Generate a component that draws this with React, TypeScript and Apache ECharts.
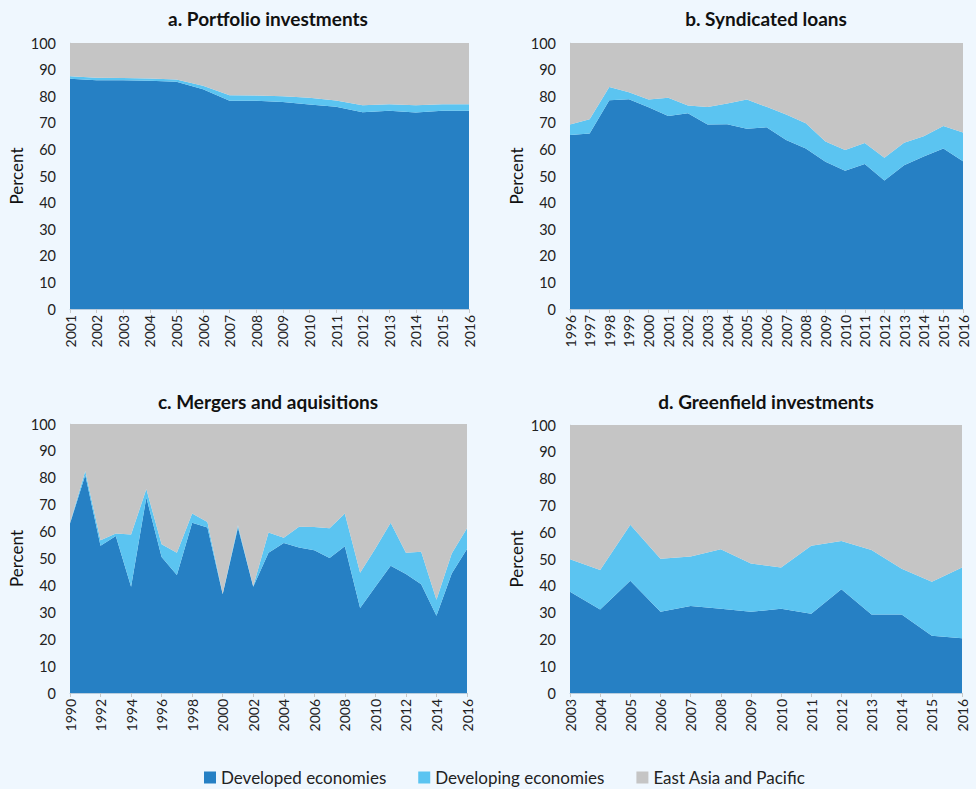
import React, { useEffect, useRef } from "react";
import * as echarts from "echarts";

const yearsA = ["2001","2002","2003","2004","2005","2006","2007","2008","2009","2010","2011","2012","2013","2014","2015","2016"];
const devA = [86.6, 86.0, 86.0, 85.8, 85.4, 82.6, 78.3, 78.3, 77.8, 76.9, 76.0, 74.0, 74.5, 73.9, 74.5, 74.5];
const dvgA = [0.9, 0.9, 0.8, 0.9, 0.9, 1.3, 2.1, 2.0, 2.2, 2.5, 2.4, 2.6, 2.5, 2.7, 2.5, 2.5];

const yearsB = ["1996","1997","1998","1999","2000","2001","2002","2003","2004","2005","2006","2007","2008","2009","2010","2011","2012","2013","2014","2015","2016"];
const devB = [65.4, 66.0, 78.5, 78.9, 75.8, 72.6, 73.6, 69.4, 69.5, 67.8, 68.3, 63.5, 60.3, 55.4, 52.0, 54.5, 48.3, 54.0, 57.3, 60.3, 55.5];
const dvgB = [4.0, 5.3, 5.0, 2.6, 3.0, 6.8, 2.9, 6.5, 7.8, 11.0, 7.7, 9.6, 9.5, 7.6, 7.8, 7.9, 8.6, 8.5, 7.6, 8.5, 10.9];

const yearsC = ["1990","1991","1992","1993","1994","1995","1996","1997","1998","1999","2000","2001","2002","2003","2004","2005","2006","2007","2008","2009","2010","2011","2012","2013","2014","2015","2016"];
const devC = [63.0, 81.0, 54.7, 58.4, 39.5, 72.7, 50.6, 43.9, 63.3, 61.5, 36.7, 61.5, 39.5, 52.1, 55.8, 54.1, 53.1, 50.2, 54.6, 31.6, 39.5, 47.3, 44.2, 40.4, 28.7, 44.4, 53.5];
const dvgC = [0.3, 1.5, 2.1, 0.9, 19.4, 3.1, 4.7, 8.2, 3.4, 2.1, 0.2, 0.9, 0.2, 7.6, 1.9, 7.7, 8.6, 11.0, 12.1, 13.1, 14.2, 16.0, 7.9, 12.1, 6.0, 7.5, 7.7];

const yearsD = ["2003","2004","2005","2006","2007","2008","2009","2010","2011","2012","2013","2014","2015","2016"];
const devD = [37.8, 31.2, 41.9, 30.3, 32.5, 31.4, 30.3, 31.4, 29.6, 38.7, 29.3, 29.3, 21.4, 20.4];
const dvgD = [12.1, 14.7, 20.9, 19.8, 18.4, 22.2, 18.0, 15.4, 25.3, 18.0, 24.1, 17.1, 20.1, 26.4];

const panelTitles = ["a. Portfolio investments", "b. Syndicated loans", "c. Mergers and aquisitions", "d. Greenfield investments"];
const seriesNames = ["Developed economies", "Developing economies", "East Asia and Pacific"];
const yTicks = [0, 10, 20, 30, 40, 50, 60, 70, 80, 90, 100];

const COLORS = ["#2680C4", "#5BC4F1", "#C5C5C5"];
const FONT = "Lato, 'Noto Sans', sans-serif";

export default function App() {
  const ref = useRef<HTMLDivElement>(null);
  useEffect(() => {
    if (!ref.current) return;
    const chart = echarts.init(ref.current, null, { renderer: "svg" });
    const panels = [
      { years: yearsA, dev: devA, dvg: dvgA, grid: { left: 70, top: 43, width: 399, height: 266 }, labelInterval: 0, cx: 268, ty: 9 },
      { years: yearsB, dev: devB, dvg: dvgB, grid: { left: 570, top: 43, width: 393, height: 266 }, labelInterval: 0, cx: 766, ty: 9 },
      { years: yearsC, dev: devC, dvg: dvgC, grid: { left: 70, top: 424, width: 397, height: 269 }, labelInterval: 1, cx: 268, ty: 392 },
      { years: yearsD, dev: devD, dvg: dvgD, grid: { left: 570, top: 425, width: 392, height: 268 }, labelInterval: 0, cx: 766, ty: 392 },
    ];
    const grids: any[] = [];
    const xAxes: any[] = [];
    const yAxes: any[] = [];
    const series: any[] = [];
    const titles: any[] = [];
    panels.forEach((p, i) => {
      grids.push({ ...p.grid, containLabel: false });
      titles.push({
        text: panelTitles[i],
        left: p.cx,
        top: p.ty,
        padding: 0,
        textAlign: "center",
        textStyle: { fontFamily: FONT, fontSize: 19, fontWeight: "bold", color: "#111" },
      });
      xAxes.push({
        type: "category",
        gridIndex: i,
        data: p.years,
        boundaryGap: false,
        axisLine: { lineStyle: { color: "#B9CDDE", width: 1 } },
        axisTick: { show: true, interval: p.labelInterval, length: 4, lineStyle: { color: "#C8C8C8" } },
        axisLabel: { interval: p.labelInterval, rotate: 90, fontSize: 14, color: "#222", fontFamily: FONT, margin: 6 },
        splitLine: { show: false },
      });
      yAxes.push({
        type: "value",
        gridIndex: i,
        min: yTicks[0],
        max: yTicks[yTicks.length - 1],
        interval: 10,
        name: "Percent",
        nameLocation: "middle",
        nameGap: 45,
        nameTextStyle: { fontFamily: FONT, fontSize: 17, color: "#111" },
        axisLine: { show: true, lineStyle: { color: "#D3DEE8" } },
        axisTick: { show: false },
        axisLabel: { fontSize: 14.5, color: "#222", fontFamily: FONT, margin: 14 },
        splitLine: { show: false },
      });
      const rest = p.dev.map((d, k) => Math.max(0, +(100 - d - p.dvg[k]).toFixed(2)));
      const vals = [p.dev, p.dvg, rest];
      vals.forEach((v, s) => {
        series.push({
          name: seriesNames[s],
          type: "line",
          xAxisIndex: i,
          yAxisIndex: i,
          stack: "total" + i,
          data: v,
          symbol: "none",
          lineStyle: { width: 0 },
          areaStyle: { color: COLORS[s], opacity: 1 },
          itemStyle: { color: COLORS[s] },
          z: 2,
        });
      });
    });
    chart.setOption({
      animation: false,
      backgroundColor: "#EFF7FE",
      color: COLORS,
      title: titles,
      grid: grids,
      xAxis: xAxes,
      yAxis: yAxes,
      series,
      legend: {
        data: seriesNames.map((n, i) => ({ name: n, itemStyle: { color: COLORS[i] } })),
        left: 204,
        top: 769,
        padding: 0,
        icon: "rect",
        itemWidth: 12,
        itemHeight: 12,
        itemGap: 32,
        textStyle: { fontFamily: FONT, fontSize: 17, color: "#222" },
      },
    });
    return () => chart.dispose();
  }, []);
  return <div ref={ref} style={{ position: "fixed", left: 0, top: 0, width: 976, height: 789 }} />;
}
